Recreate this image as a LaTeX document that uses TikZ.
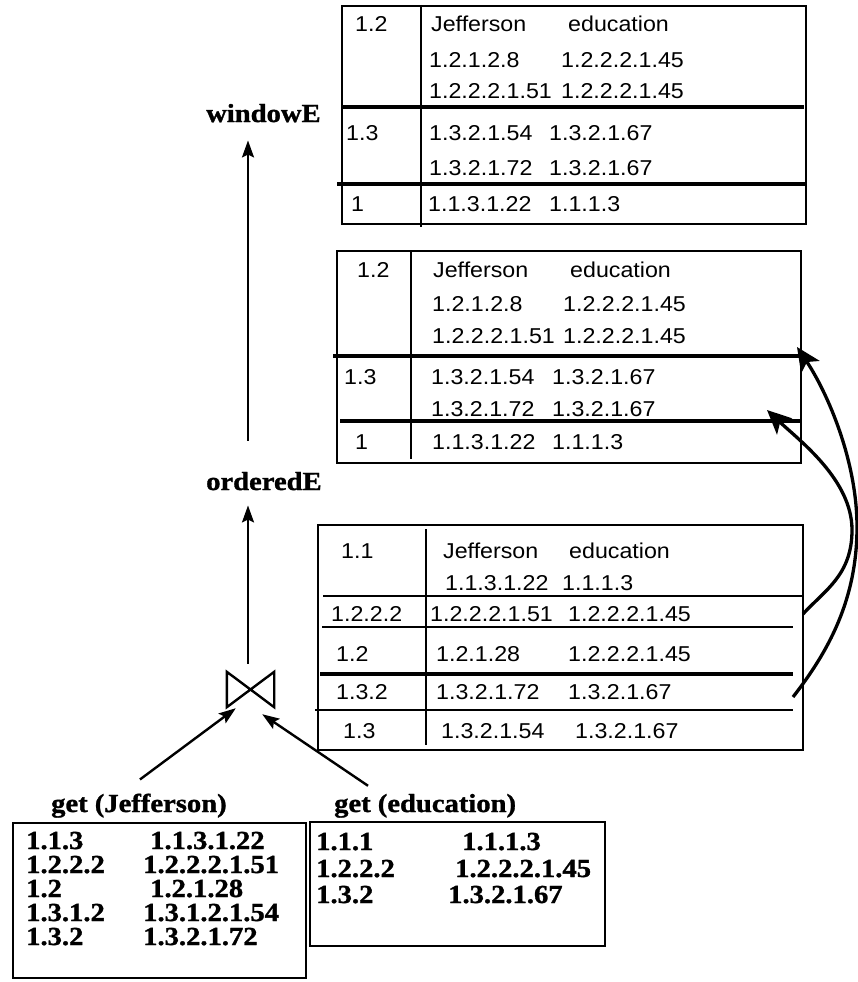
\documentclass[tikz,border=0pt]{standalone}
\usepackage{fontspec}
\usetikzlibrary{arrows.meta,calc}
\newfontfamily\tabfont{Liberation Sans}[FakeStretch=1.08]
\newfontfamily\labfont{Liberation Serif}[FakeStretch=1.1, BoldFeatures={FakeBold=1.2}]
\begin{document}
\begin{tikzpicture}[x=1pt,y=-1pt,
  tabtxt/.style={font=\tabfont\fontsize{21.5}{25}\selectfont, anchor=base west, inner sep=0pt},
  labtxt/.style={font=\labfont\bfseries\fontsize{26}{30}\selectfont, anchor=base west, inner sep=0pt},
  frame/.style={draw, line width=2.4pt, inner sep=0pt, anchor=north west},
  rule/.style={line width=2.4pt},
  midrule/.style={line width=2.8pt},
  heavyrule/.style={line width=3.5pt},
  flow/.style={-{Stealth[length=17pt,width=12pt,inset=3pt]}, line width=2.4pt},
  link/.style={-{Stealth[length=24pt,width=22pt,inset=6pt]}, line width=3.3pt}]

\path[fill=white, use as bounding box] (0,0) rectangle (858,982);

% ---------- windowE result table ----------
\node[frame, minimum width=464pt, minimum height=218pt] (tabW) at (341,5) {};
\draw[rule] (421,5) -- (421,227);
\draw[heavyrule] (341,107) -- (804,107);
\draw[heavyrule] (337,184) -- (805,184);
\node[tabtxt] (w1)  at (355,32)  {1.2};
\node[tabtxt] (w2)  at (431,32)  {Jefferson};
\node[tabtxt] (w3)  at (568,32)  {education};
\node[tabtxt] (w4)  at (429,67)  {1.2.1.2.8};
\node[tabtxt] (w5)  at (561,67)  {1.2.2.2.1.45};
\node[tabtxt] (w6)  at (429,98)  {1.2.2.2.1.51};
\node[tabtxt] (w7)  at (561,98)  {1.2.2.2.1.45};
\node[tabtxt] (w8)  at (346,140) {1.3};
\node[tabtxt] (w9)  at (429,140) {1.3.2.1.54};
\node[tabtxt] (w10) at (549,140) {1.3.2.1.67};
\node[tabtxt] (w11) at (429,175) {1.3.2.1.72};
\node[tabtxt] (w12) at (549,175) {1.3.2.1.67};
\node[tabtxt] (w13) at (351,211) {1};
\node[tabtxt] (w14) at (428,211) {1.1.3.1.22};
\node[tabtxt] (w15) at (549,211) {1.1.1.3};

% ---------- orderedE table ----------
\node[frame, minimum width=464pt, minimum height=212pt] (tabO) at (336,250) {};
\draw[rule] (411,250) -- (411,459);
\draw[heavyrule] (333,356) -- (800,356);
\draw[heavyrule] (340,421) -- (800,421);
\node[tabtxt] (o1)  at (357,277) {1.2};
\node[tabtxt] (o2)  at (433,277) {Jefferson};
\node[tabtxt] (o3)  at (570,277) {education};
\node[tabtxt] (o4)  at (432,311) {1.2.1.2.8};
\node[tabtxt] (o5)  at (563,311) {1.2.2.2.1.45};
\node[tabtxt] (o6)  at (432,343) {1.2.2.2.1.51};
\node[tabtxt] (o7)  at (563,343) {1.2.2.2.1.45};
\node[tabtxt] (o8)  at (344,384) {1.3};
\node[tabtxt] (o9)  at (431,384) {1.3.2.1.54};
\node[tabtxt] (o10) at (552,384) {1.3.2.1.67};
\node[tabtxt] (o11) at (431,416) {1.3.2.1.72};
\node[tabtxt] (o12) at (552,416) {1.3.2.1.67};
\node[tabtxt] (o13) at (355,449) {1};
\node[tabtxt] (o14) at (432,449) {1.1.3.1.22};
\node[tabtxt] (o15) at (552,449) {1.1.1.3};

% ---------- join result table ----------
\node[frame, minimum width=485pt, minimum height=225pt] (tabJ) at (317,524) {};
\draw[rule] (426,529) -- (426,745);
\draw[midrule] (323,596) -- (802,596);
\draw[rule] (322,627) -- (793,627);
\draw[heavyrule] (320,674) -- (793,674);
\draw[midrule] (315,710) -- (793,710);
\node[tabtxt] (j1)  at (341,558) {1.1};
\node[tabtxt] (j2)  at (443,558) {Jefferson};
\node[tabtxt] (j3)  at (569,558) {education};
\node[tabtxt] (j4)  at (445,590) {1.1.3.1.22};
\node[tabtxt] (j5)  at (562,590) {1.1.1.3};
\node[tabtxt] (j6)  at (331,621) {1.2.2.2};
\node[tabtxt] (j7)  at (430,621) {1.2.2.2.1.51};
\node[tabtxt] (j8)  at (568,621) {1.2.2.2.1.45};
\node[tabtxt] (j9)  at (336,661) {1.2};
\node[tabtxt] (j10) at (436,661) {1.2.1.28};
\node[tabtxt] (j11) at (568,661) {1.2.2.2.1.45};
\node[tabtxt] (j12) at (336,699) {1.3.2};
\node[tabtxt] (j13) at (436,699) {1.3.2.1.72};
\node[tabtxt] (j14) at (568,699) {1.3.2.1.67};
\node[tabtxt] (j15) at (343,738) {1.3};
\node[tabtxt] (j16) at (441,738) {1.3.2.1.54};
\node[tabtxt] (j17) at (575,738) {1.3.2.1.67};

% ---------- operator column ----------
\coordinate (axis) at (248,0);
\node[labtxt] (winE) at (206,122) {windowE};
\node[labtxt] (ordE) at (206,490) {orderedE};
\node[minimum width=47pt, minimum height=35pt, inner sep=0pt] (jn) at (250.5,689.5) {};
\draw[line width=2.4pt, line join=miter]
  (jn.north west) -- (jn.south west) -- (jn.north east) -- (jn.south east) -- cycle;

\draw[flow, shorten <=8pt, shorten >=15pt] (jn.north -| axis) -- (ordE.south -| axis);
\draw[flow, shorten <=31pt, shorten >=18pt] (ordE.north -| axis) -- (winE.south -| axis);

% ---------- index lookups ----------
\node[labtxt] (getJ) at (51,812) {get (Jefferson)};
\node[labtxt] (getE) at (334,812) {get (education)};

\node[frame, minimum width=293pt, minimum height=155pt] (boxJ) at (12,822) {};
\node[labtxt] (gj1)  at (26,849)  {1.1.3};
\node[labtxt] (gj2)  at (150,849) {1.1.3.1.22};
\node[labtxt] (gj3)  at (26,873)  {1.2.2.2};
\node[labtxt] (gj4)  at (143,873) {1.2.2.2.1.51};
\node[labtxt] (gj5)  at (26,897)  {1.2};
\node[labtxt] (gj6)  at (150,897) {1.2.1.28};
\node[labtxt] (gj7)  at (26,921)  {1.3.1.2};
\node[labtxt] (gj8)  at (143,921) {1.3.1.2.1.54};
\node[labtxt] (gj9)  at (26,945)  {1.3.2};
\node[labtxt] (gj10) at (143,945) {1.3.2.1.72};

\node[frame, minimum width=295pt, minimum height=124pt] (boxE) at (309,821) {};
\node[labtxt] (ge1) at (316,850) {1.1.1};
\node[labtxt] (ge2) at (462,850) {1.1.1.3};
\node[labtxt] (ge3) at (316,877) {1.2.2.2};
\node[labtxt] (ge4) at (455,877) {1.2.2.2.1.45};
\node[labtxt] (ge5) at (316,903) {1.3.2};
\node[labtxt] (ge6) at (448,903) {1.3.2.1.67};

\draw[flow] ($(getJ.north)+(1,-14)$) -- ($(jn.south west)+(9,1)$);
\draw[flow] ($(getE.north west)+(34,-8)$) -- ($(jn.south east)+(-12,7)$);

% ---------- rows carried up into the ordered table ----------
\coordinate (srcA) at (793,697);
\coordinate (bendA) at (857,527);
\coordinate (dstA) at (797,347);
\coordinate (srcB) at (803,614);
\coordinate (bendB) at (852,530);
\coordinate (dstB) at (767,410);
\draw[link] (srcA) .. controls (828,652) and (857,600) .. (bendA)
                   .. controls (857,460) and (827,392) .. (dstA);
\draw[link] (srcB) .. controls (825,590) and (852,575) .. (bendB)
                   .. controls (852,480) and (800,441) .. (dstB);
\end{tikzpicture}
\end{document}
